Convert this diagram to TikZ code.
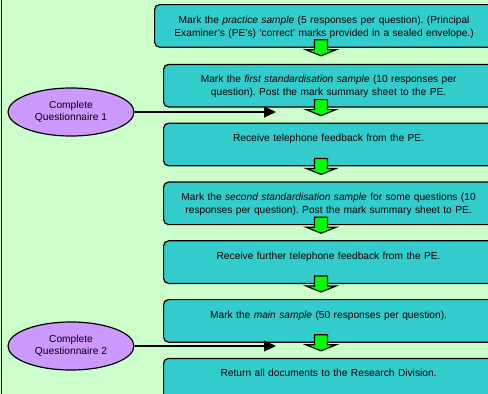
\documentclass[tikz,border=0pt]{standalone}
\usepackage{fontspec}
\setmainfont{Liberation Sans}
\usepackage{xcolor}
\usepackage{tikz}
\usetikzlibrary{shapes.geometric, arrows.meta, positioning, calc}
\frenchspacing
\definecolor{bggreen}{HTML}{CCFFCC}
\definecolor{boxteal}{HTML}{33CCCC}
\definecolor{questlilac}{HTML}{CC99FF}
\definecolor{arrowgreen}{HTML}{00FF00}
\tikzstyle{stepbox} = [rectangle, rounded corners=5pt, draw=black, line width=1.2pt, fill=boxteal, inner xsep=4pt, inner ysep=0pt, text width=322pt, align=center, text height=18.5pt, text depth=24.1pt, font=\fontsize{10.2}{13}\selectfont]
\tikzstyle{questellipse} = [ellipse, draw=black, line width=1.2pt, fill=questlilac, minimum width=126pt, minimum height=48pt, inner sep=0pt, align=center, font=\fontsize{10.2}{12.5}\selectfont]
\tikzstyle{qarrow} = [line width=1.2pt, -{Triangle[length=12pt, width=11pt]}]
\tikzstyle{greenarrow} = [draw=black, line width=1.2pt, fill=arrowgreen, line join=miter]

\begin{document}
\begin{tikzpicture}[x=1pt, y=-1pt]
    % Fondo
    \useasboundingbox (0,0) rectangle (488,394);
    \clip (0,0) rectangle (488,394);
    \fill [bggreen] (0,0) rectangle (488,394);
    \draw [line width=1.3pt] (1.5,-5) -- (1.5,400);

    % Pasos
    \node (prac) [stepbox, text width=331pt, anchor=north west] at (154,4) {Mark the \textit{practice sample} (5 responses per question). (Principal\\Examiner's (PE's) `correct' marks provided in a sealed envelope.)};
    \node (first) [stepbox, below right=16pt and 9pt of prac.south west] {Mark the \textit{first standardisation sample} (10 responses per\\question). Post the mark summary sheet to the PE.};
    \node (tele) [stepbox, below=15pt of first] {Receive telephone feedback from the PE.};
    \node (second) [stepbox, below=15pt of tele] {Mark the \textit{second standardisation sample} for some questions (10\\responses per question). Post the mark summary sheet to PE.};
    \node (further) [stepbox, below=15pt of second] {Receive further telephone feedback from the PE.};
    \node (main) [stepbox, below=15pt of further] {Mark the \textit{main sample} (50 responses per question).};
    \node (ret) [stepbox, below=15pt of main] {Return all documents to the Research Division.};

    % Flechas verdes
    \foreach \s in {prac, first, tele, second, further, main} {
        \coordinate (s) at (\s.south -| 321,0);
        \draw [greenarrow] (s) ++(-6.5,-8) -- ++(13,0) -- ++(0,10) -- ++(8.5,0) -- ++(-15,6) -- ++(-15,-6) -- ++(8.5,0) -- cycle;
    }

    % Cuestionarios
    \node (quest1) [questellipse] at (71,112) {Complete\\Questionnaire 1};
    \node (quest2) [questellipse] at (71,346) {Complete\\Questionnaire 2};
    \coordinate (q1end) at (276,112);
    \coordinate (q2end) at (276,346);
    \draw [qarrow] (quest1) -- (q1end);
    \draw [qarrow] (quest2) -- (q2end);
\end{tikzpicture}
\end{document}
